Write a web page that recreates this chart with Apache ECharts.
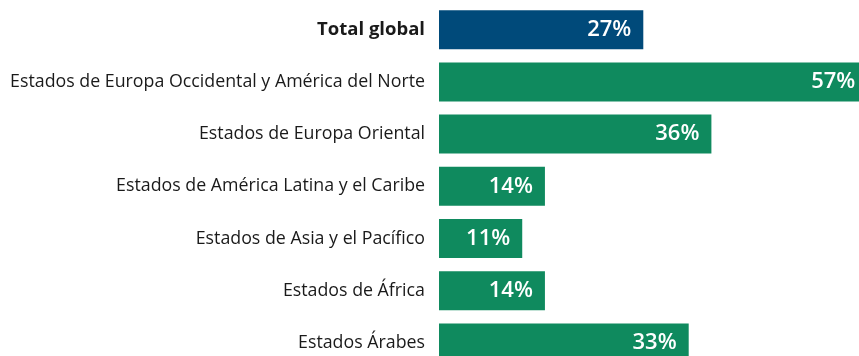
<!DOCTYPE html>
<html>
<head>
<meta charset="utf-8">
<script src="https://cdn.jsdelivr.net/npm/echarts@6/dist/echarts.min.js"></script>
<style>
  html, body { margin: 0; padding: 0; background: #ffffff; }
  #chart { width: 859px; height: 356px; }
</style>
</head>
<body>
<div id="chart"></div>
<script>
// Regions, top to bottom
const categories = [
  'Total global',
  'Estados de Europa Occidental y América del Norte',
  'Estados de Europa Oriental',
  'Estados de América Latina y el Caribe',
  'Estados de Asia y el Pacífico',
  'Estados de África',
  'Estados Árabes'
];
// Share in percent
const values = [27, 57, 36, 14, 11, 14, 33];

const NAVY = '#004a7a';
const GREEN = '#0f8a5e';

const seriesData = values.map((v, i) => {
  const item = {
    value: v,
    itemStyle: { color: i === 0 ? NAVY : GREEN }
  };
  // the widest bar runs past the edge; keep its label in view
  if (v === Math.max(...values)) item.label = { distance: 15 };
  return item;
});

const chart = echarts.init(document.getElementById('chart'), null, { renderer: 'canvas' });
chart.setOption({
  animation: false,
  grid: {
    left: 439, top: 3.6, width: 454, height: 365.4,
    containLabel: false,
    outerBoundsMode: 'none'
  },
  xAxis: {
    type: 'value', min: 0, max: 60,
    show: false
  },
  yAxis: {
    type: 'category',
    data: categories,
    inverse: true,
    axisLine: { show: false },
    axisTick: { show: false },
    axisLabel: {
      margin: 14,
      fontFamily: 'Open Sans',
      fontSize: 17.8,
      color: '#1a1a1a',
      formatter: (v) => v === 'Total global' ? '{b|' + v + '}' : v,
      rich: { b: { fontFamily: 'Open Sans', fontSize: 18.5, fontWeight: 'bold', color: '#1a1a1a' } }
    }
  },
  series: [{
    type: 'bar',
    data: seriesData,
    barWidth: 39,
    label: {
      show: true,
      position: 'insideRight',
      distance: 12,
      color: '#ffffff',
      fontFamily: 'Open Sans',
      fontWeight: 600,
      fontSize: 22,
      formatter: (p) => p.value + '%'
    }
  }]
});
</script>
</body>
</html>
